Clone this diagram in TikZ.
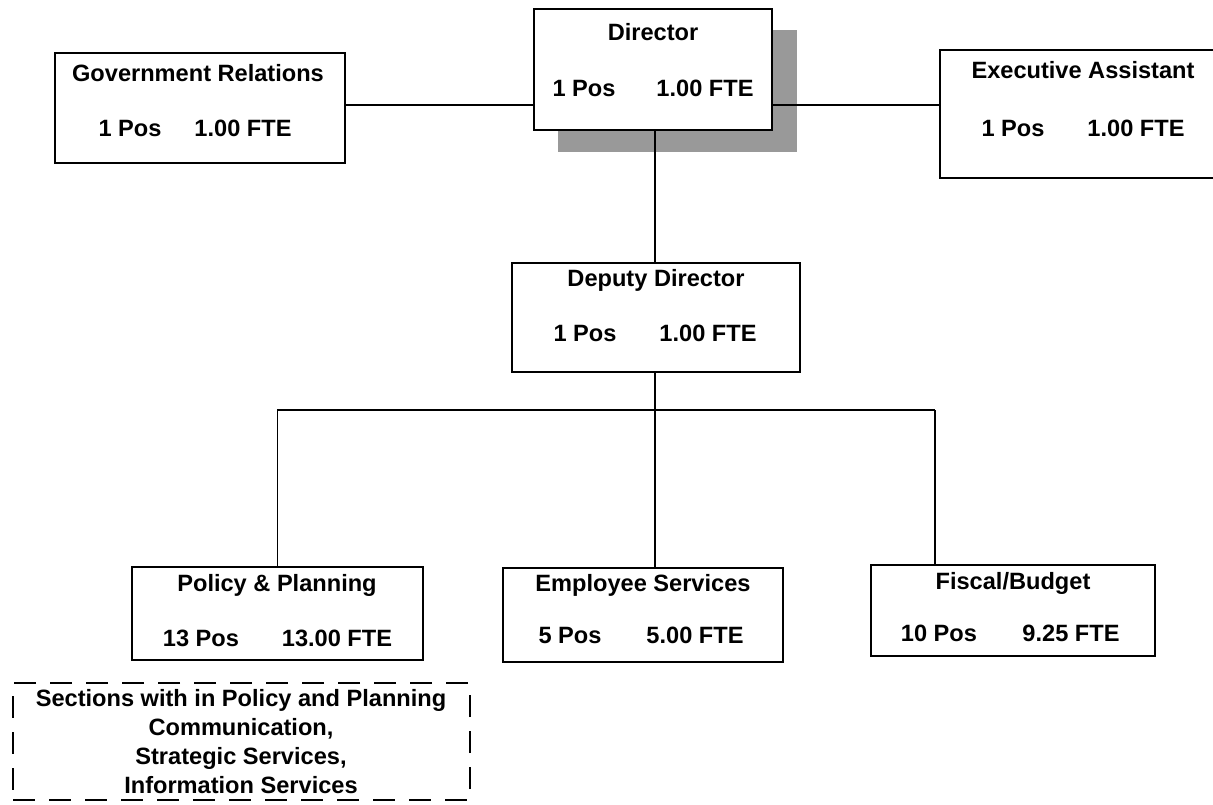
\documentclass[tikz,border=0pt]{standalone}
\usepackage{fontspec}
\setmainfont{Liberation Sans}
\begin{document}
\begin{tikzpicture}[x=1pt,y=-1pt,
  box/.style={draw=black,line width=1.8pt,fill=white,inner sep=0pt},
  lbl/.style={font=\fontsize{23.6}{26}\selectfont\bfseries,inner sep=0pt,anchor=center},
  conn/.style={line width=1.4pt}]
\useasboundingbox (0,0) rectangle (1213,805);
% shadow of director
\fill[black!40] (558,30) rectangle (797,152);
% boxes
\node[box,minimum width=238pt,minimum height=121pt] (dir) at (653,69.5) {};
\node[box,minimum width=290pt,minimum height=110pt] (gr) at (200,108) {};
\node[box,minimum width=290pt,minimum height=128pt] (ea) at (1085,114) {};
\node[box,minimum width=288pt,minimum height=109pt] (dep) at (656,317.5) {};
\node[box,minimum width=291pt,minimum height=93pt] (pp) at (277.5,613.5) {};
\node[box,minimum width=280pt,minimum height=94pt] (es) at (643,615) {};
\node[box,minimum width=284pt,minimum height=91pt] (fb) at (1013,610.5) {};
\node[draw=black,line width=1.8pt,dash pattern=on 22pt off 14pt,minimum width=457pt,minimum height=117pt,inner sep=0pt] (sec) at (241.5,741.5) {};
% texts
\node[lbl] (t1) at (653,32) {Director};
\node[lbl] (t2) at (584,88) {1 Pos};
\node[lbl] (t3) at (705,88) {1.00 FTE};
\node[lbl] (t4) at (198,73) {Government Relations};
\node[lbl] (t5) at (130,128) {1 Pos};
\node[lbl] (t6) at (243,128) {1.00 FTE};
\node[lbl] (t7) at (1083,70) {Executive Assistant};
\node[lbl] (t8) at (1013,128) {1 Pos};
\node[lbl] (t9) at (1136,128) {1.00 FTE};
\node[lbl] (t10) at (656,280) {Deputy Director};
\node[lbl] (t11) at (585,333) {1 Pos};
\node[lbl] (t12) at (708,333) {1.00 FTE};
\node[lbl] (t13) at (277,585) {Policy \& Planning};
\node[lbl] (t14) at (201,638) {13 Pos};
\node[lbl] (t15) at (337,638) {13.00 FTE};
\node[lbl] (t16) at (643,585) {Employee Services};
\node[lbl] (t17) at (570,635) {5 Pos};
\node[lbl] (t18) at (695,635) {5.00 FTE};
\node[lbl] (t19) at (1013,583) {Fiscal/Budget};
\node[lbl] (t20) at (939,633) {10 Pos};
\node[lbl] (t21) at (1071,633) {9.25 FTE};
\node[lbl,align=center,font=\fontsize{23.6}{29.2}\selectfont\bfseries] (t22) at (241,741.5) {Sections with in Policy and Planning\\Communication,\\Strategic Services,\\Information Services};
% connectors
\coordinate (lvl) at (0,105);
\coordinate (bus) at (655,410);
\coordinate (busR) at (935,410);
\draw[conn] (gr.east |- lvl) -- (dir.west |- lvl);
\draw[conn] (dir.east |- lvl) -- (ea.west |- lvl);
\draw[conn] (bus |- dir.south) -- (bus |- dep.north);
\draw[conn] (bus |- dep.south) -- (bus);
\draw[conn] (pp.north) |- (busR);
\draw[conn] (busR) -- (busR |- fb.north);
\draw[conn] (bus) -- (bus |- es.north);
\end{tikzpicture}
\end{document}
